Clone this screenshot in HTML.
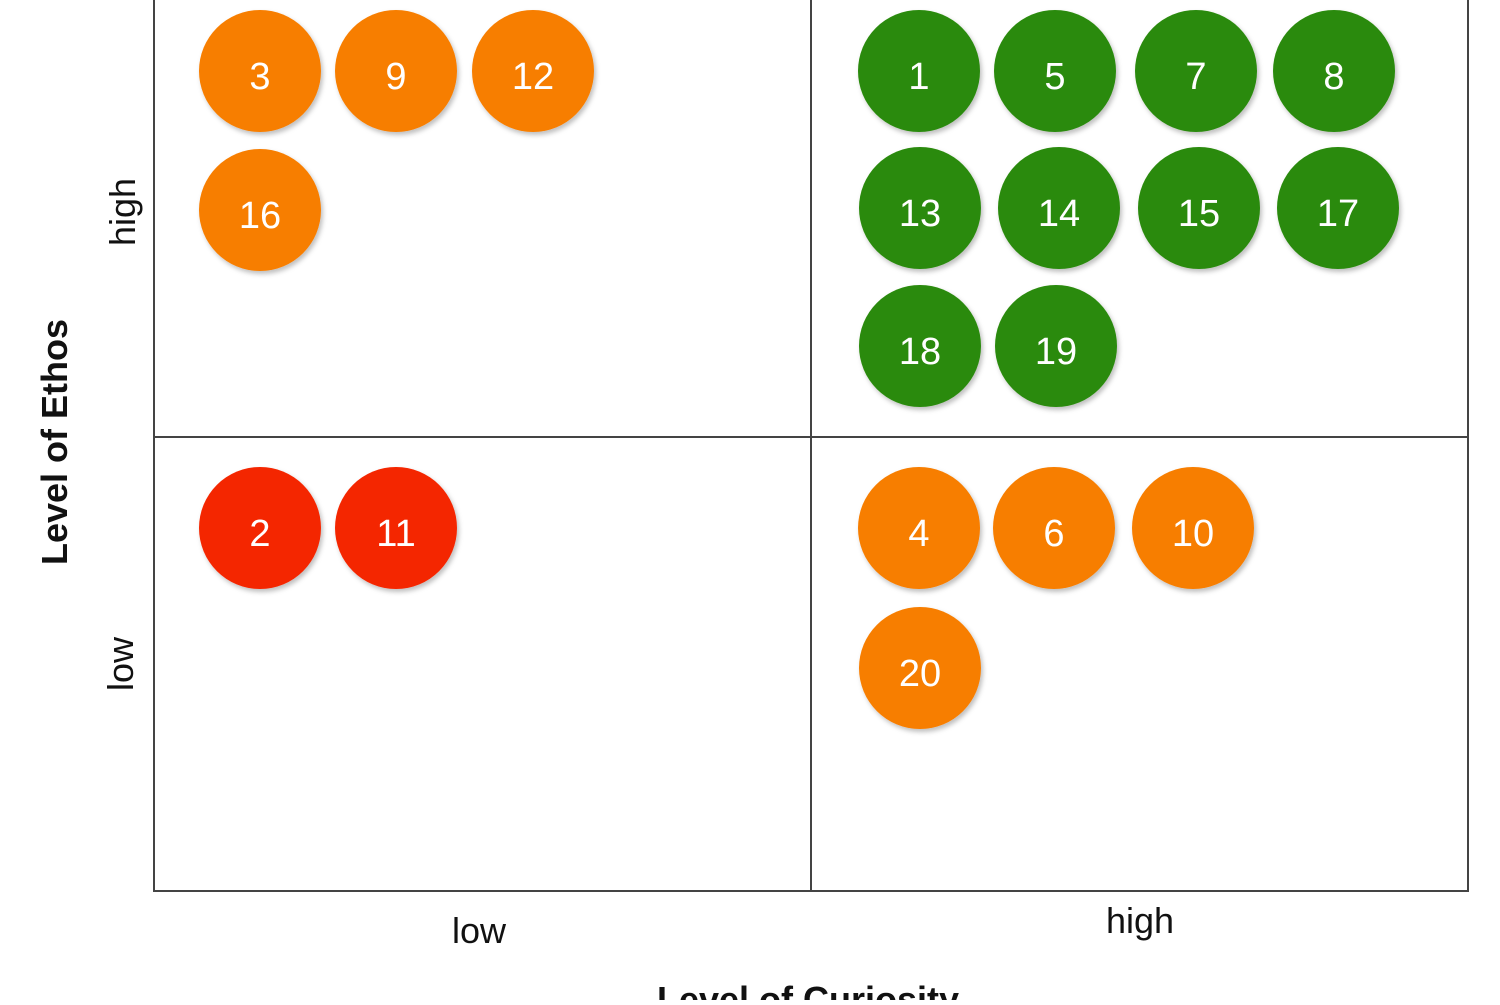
<!DOCTYPE html>
<html><head><style>html,body{margin:0;padding:0;background:#fff;}</style></head>
<body>
<svg width="1500" height="1000" xmlns="http://www.w3.org/2000/svg" font-family="'Liberation Sans', sans-serif">
<defs>
<filter id="sh" x="-20%" y="-20%" width="150%" height="150%">
<feDropShadow dx="2" dy="3" stdDeviation="2.5" flood-color="#000" flood-opacity="0.25"/>
</filter>
</defs>
<rect width="1500" height="1000" fill="#fff"/>
<g stroke="#444" stroke-width="2" fill="none">
<line x1="154" y1="0" x2="154" y2="891"/>
<line x1="1468" y1="0" x2="1468" y2="891"/>
<line x1="153" y1="891" x2="1469" y2="891"/>
<line x1="811" y1="0" x2="811" y2="891"/>
<line x1="154" y1="437" x2="1468" y2="437"/>
</g>
<g filter="url(#sh)">
<g fill="#F77E03">
<circle cx="260" cy="71" r="61"/><circle cx="396" cy="71" r="61"/><circle cx="533" cy="71" r="61"/>
<circle cx="260" cy="210" r="61"/>
<circle cx="919" cy="528" r="61"/><circle cx="1054" cy="528" r="61"/><circle cx="1193" cy="528" r="61"/>
<circle cx="920" cy="668" r="61"/>
</g>
<g fill="#2B8A0C">
<circle cx="919" cy="71" r="61"/><circle cx="1055" cy="71" r="61"/><circle cx="1196" cy="71" r="61"/><circle cx="1334" cy="71" r="61"/>
<circle cx="920" cy="208" r="61"/><circle cx="1059" cy="208" r="61"/><circle cx="1199" cy="208" r="61"/><circle cx="1338" cy="208" r="61"/>
<circle cx="920" cy="346" r="61"/><circle cx="1056" cy="346" r="61"/>
</g>
<g fill="#F42700">
<circle cx="260" cy="528" r="61"/><circle cx="396" cy="528" r="61"/>
</g>
</g>
<g fill="#fff" font-size="38" text-anchor="middle">
<text x="260" y="89">3</text><text x="396" y="89">9</text><text x="533" y="89">12</text>
<text x="260" y="228">16</text>
<text x="919" y="89">1</text><text x="1055" y="89">5</text><text x="1196" y="89">7</text><text x="1334" y="89">8</text>
<text x="920" y="226">13</text><text x="1059" y="226">14</text><text x="1199" y="226">15</text><text x="1338" y="226">17</text>
<text x="920" y="364">18</text><text x="1056" y="364">19</text>
<text x="260" y="546">2</text><text x="396" y="546">11</text>
<text x="919" y="546">4</text><text x="1054" y="546">6</text><text x="1193" y="546">10</text>
<text x="920" y="686">20</text>
</g>
<g fill="#111" font-size="36">
<text x="479" y="943" text-anchor="middle">low</text>
<text x="1140" y="933" text-anchor="middle">high</text>
<text x="808" y="1012" text-anchor="middle" font-weight="bold">Level of Curiosity</text>
<text transform="translate(135,212) rotate(-90)" text-anchor="middle">high</text>
<text transform="translate(133,664) rotate(-90)" text-anchor="middle">low</text>
<text transform="translate(67,442) rotate(-90)" text-anchor="middle" font-weight="bold">Level of Ethos</text>
</g>
</svg>
</body></html>
